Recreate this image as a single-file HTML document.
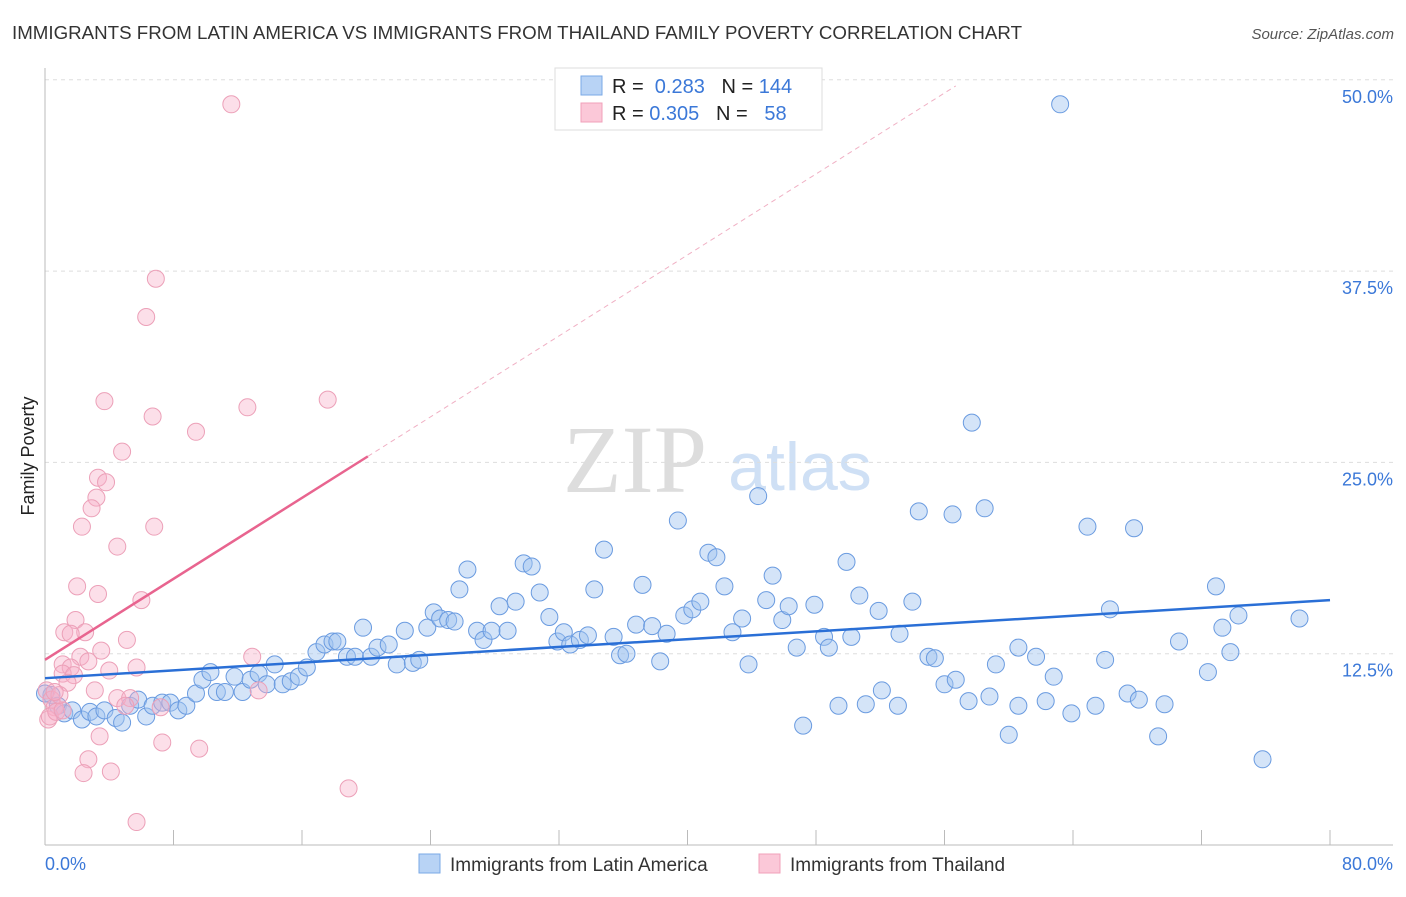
<!DOCTYPE html>
<html><head><meta charset="utf-8"><style>
body{margin:0;background:#fff;font-family:"Liberation Sans",sans-serif}
</style></head><body>
<svg id="c" width="1406" height="892" xmlns="http://www.w3.org/2000/svg" style="font-family:'Liberation Sans',sans-serif">
<text x="12" y="39" font-size="18" fill="#333" textLength="1010" lengthAdjust="spacingAndGlyphs">IMMIGRANTS FROM LATIN AMERICA VS IMMIGRANTS FROM THAILAND FAMILY POVERTY CORRELATION CHART</text>
<text x="1394" y="39" font-size="15" fill="#555" font-style="italic" text-anchor="end">Source: ZipAtlas.com</text>
<text x="34" y="456" font-size="18" fill="#222" transform="rotate(-90 34 456)" text-anchor="middle">Family Poverty</text>
<g><text x="635" y="492" font-size="96" fill="#ddd" font-family="Liberation Serif" text-anchor="middle">ZIP</text><text x="800" y="490" font-size="68" fill="#cfe0f5" text-anchor="middle">atlas</text></g>
<g id="grid"></g><g id="pts"></g><g id="lines"></g>
<g>
<rect x="555" y="68" width="267" height="62" fill="#fff" stroke="#ddd"/>
<rect x="581" y="76" width="21" height="19" fill="#b8d3f5" stroke="#7aa8e6"/>
<rect x="581" y="103" width="21" height="19" fill="#fbc8d8" stroke="#f0a0ba"/>
<text x="612" y="93" font-size="20" fill="#222">R = <tspan fill="#3b78d8">&#160;0.283</tspan>&#160;&#160;&#160;N = <tspan fill="#3b78d8">144</tspan></text>
<text x="612" y="120" font-size="20" fill="#222">R = <tspan fill="#3b78d8">0.305</tspan>&#160;&#160;&#160;N = <tspan fill="#3b78d8">&#160;&#160;58</tspan></text>
</g>
<g>
<rect x="419" y="854" width="21" height="19" fill="#b8d3f5" stroke="#7aa8e6"/>
<text x="450" y="871" font-size="19" fill="#333">Immigrants from Latin America</text>
<rect x="759" y="854" width="21" height="19" fill="#fbc8d8" stroke="#f0a0ba"/>
<text x="790" y="871" font-size="19" fill="#333">Immigrants from Thailand</text>
</g>
<text x="45" y="870" font-size="18" fill="#3b78d8">0.0%</text>
<text x="1393" y="870" font-size="18" fill="#3b78d8" text-anchor="end">80.0%</text>
</svg>
<script>
const yTicks=[50,37.5,25,12.5];
const yTickLabels=["50.0%","37.5%","25.0%","12.5%"];
const xTicks=[0,8,16,24,32,40,48,56,64,72,80];
const blueX=[0.4,0.8,1.2,1.7,2.3,2.8,3.2,3.7,4.4,4.8,5.3,5.8,6.3,6.7,7.3,7.8,8.3,8.8,9.4,9.8,10.3,10.7,11.2,11.8,12.3,12.8,13.3,13.8,14.3,14.8,15.3,15.8,16.3,16.9,17.4,17.9,18.2,18.8,19.3,19.8,20.3,20.7,21.4,21.9,22.4,22.9,23.3,23.8,24.2,24.6,25.1,25.5,25.8,26.3,26.9,27.3,27.8,28.3,28.8,29.3,29.8,30.3,30.8,31.4,31.9,32.3,32.7,33.3,33.8,34.2,34.8,35.4,35.8,36.2,36.8,37.2,37.8,38.3,38.7,39.4,39.8,40.3,40.8,41.3,41.8,42.3,42.8,43.4,43.8,44.4,44.9,45.3,45.9,46.3,46.8,47.2,47.9,48.5,48.8,49.4,49.9,50.2,50.7,51.1,51.9,52.1,53.1,53.2,54.0,54.4,55.0,55.4,56.0,56.5,56.7,57.5,57.7,58.5,58.8,59.2,60.0,60.6,60.6,61.7,62.3,62.8,63.9,64.9,65.4,66.0,66.3,67.4,67.8,68.1,69.3,69.7,70.6,72.4,72.9,73.3,73.8,74.3,75.8,78.1,63.2,0];
const blueY=[9.8,9.1,8.6,8.8,8.2,8.7,8.4,8.8,8.3,8.0,9.1,9.5,8.4,9.1,9.3,9.3,8.8,9.1,9.9,10.8,11.3,10.0,10.0,11.0,10.0,10.8,11.2,10.5,11.8,10.5,10.7,11.0,11.6,12.6,13.1,13.3,13.3,12.3,12.3,14.2,12.3,12.9,13.1,11.8,14.0,11.9,12.1,14.2,15.2,14.8,14.7,14.6,16.7,18.0,14.0,13.4,14.0,15.6,14.0,15.9,18.4,18.2,16.5,14.9,13.3,13.9,13.1,13.4,13.7,16.7,19.3,13.6,12.4,12.5,14.4,17.0,14.3,12.0,13.8,21.2,15.0,15.4,15.9,19.1,18.8,16.9,13.9,14.8,11.8,22.8,16.0,17.6,14.7,15.6,12.9,7.8,15.7,13.6,12.9,9.1,18.5,13.6,16.3,9.2,15.3,10.1,9.1,13.8,15.9,21.8,12.3,12.2,10.5,21.6,10.8,9.4,27.6,22.0,9.7,11.8,7.2,12.9,9.1,12.3,9.4,11.0,8.6,20.8,9.1,12.1,15.4,9.9,20.7,9.5,7.1,9.2,13.3,11.3,16.9,14.2,12.6,15.0,5.6,14.8,48.4,9.9];
const pinkX=[11.6,6.9,6.3,3.7,6.7,9.4,12.6,17.6,4.8,3.3,3.8,3.2,2.9,2.3,6.8,4.5,2.0,3.3,6.0,1.9,2.5,1.2,1.6,5.1,3.5,2.2,1.1,1.6,2.7,1.1,1.8,4.0,5.7,12.9,1.4,3.1,4.5,5.3,7.2,0.1,0.4,0.6,0.2,0.3,0.7,13.3,3.4,2.7,2.4,4.1,7.3,9.6,18.9,5.7,1.1,0.9,0.6,5.0];
const pinkY=[48.4,37.0,34.5,29.0,28.0,27.0,28.6,29.1,25.7,24.0,23.7,22.7,22.0,20.8,20.8,19.5,16.9,16.4,16.0,14.7,13.9,13.9,13.8,13.4,12.7,12.3,11.8,11.6,12.0,11.2,11.1,11.4,11.6,12.3,10.6,10.1,9.6,9.6,9.0,10.1,9.5,9.0,8.2,8.4,8.7,10.1,7.1,5.6,4.7,4.8,6.7,6.3,3.7,1.5,8.8,9.8,10.0,9.1];
const blueTrend=[10.9,16.0];
const pinkTrend=[12.1,49.6];
const NS="http://www.w3.org/2000/svg";
const X=v=>45+v*16.0625, Y=v=>845-v*15.304;
function mk(t,a,p){const e=document.createElementNS(NS,t);for(const k in a)e.setAttribute(k,a[k]);p.appendChild(e);return e;}
const grid=document.getElementById('grid');
yTicks.forEach((t,i)=>{
 const l=mk('line',{x1:45,x2:1393,y1:Y(t),y2:Y(t),stroke:'#ddd','stroke-dasharray':'4,4'},grid);
 
 
 const tx=mk('text',{x:1393,y:Y(t)+23,'font-size':18,fill:'#3b78d8','text-anchor':'end'},grid);
 tx.textContent=yTickLabels[i];
 
 
});
mk('line',{x1:45,x2:45,y1:68,y2:845,stroke:'#bbb'},grid);
mk('line',{x1:45,x2:1393,y1:845,y2:845,stroke:'#bbb'},grid);
xTicks.forEach(t=>{const l=mk('line',{x1:X(t),x2:X(t),y1:830,y2:845,stroke:'#bbb'},grid);
 
 });
const pts=document.getElementById('pts');
blueX.forEach((v,i)=>{const c=mk('circle',{cx:X(v),cy:Y(blueY[i]),r:8.5,fill:'rgba(160,196,240,0.45)',stroke:'#6a9be0','stroke-width':1},pts);
 
 });
pinkX.forEach((v,i)=>{const c=mk('circle',{cx:X(v),cy:Y(pinkY[i]),r:8.5,fill:'rgba(248,176,200,0.4)',stroke:'#eca0b8','stroke-width':1},pts);
 
 });
const lines=document.getElementById('lines');
const bl=mk('line',{x1:X(0),y1:Y(blueTrend[0]),x2:X(80),y2:Y(blueTrend[1]),stroke:'#2a6fd6','stroke-width':2.5},lines);


const pAt=x=>pinkTrend[0]+(pinkTrend[1]-pinkTrend[0])*x/56.7;
const pl=mk('line',{x1:X(0),y1:Y(pAt(0)),x2:X(20.1),y2:Y(pAt(20.1)),stroke:'#e8648f','stroke-width':2.5},lines);


const pd=mk('line',{x1:X(20.1),y1:Y(pAt(20.1)),x2:X(56.7),y2:Y(pAt(56.7)),stroke:'#f0b0c4','stroke-width':1,'stroke-dasharray':'5,4'},lines);


</script>
</body></html>
